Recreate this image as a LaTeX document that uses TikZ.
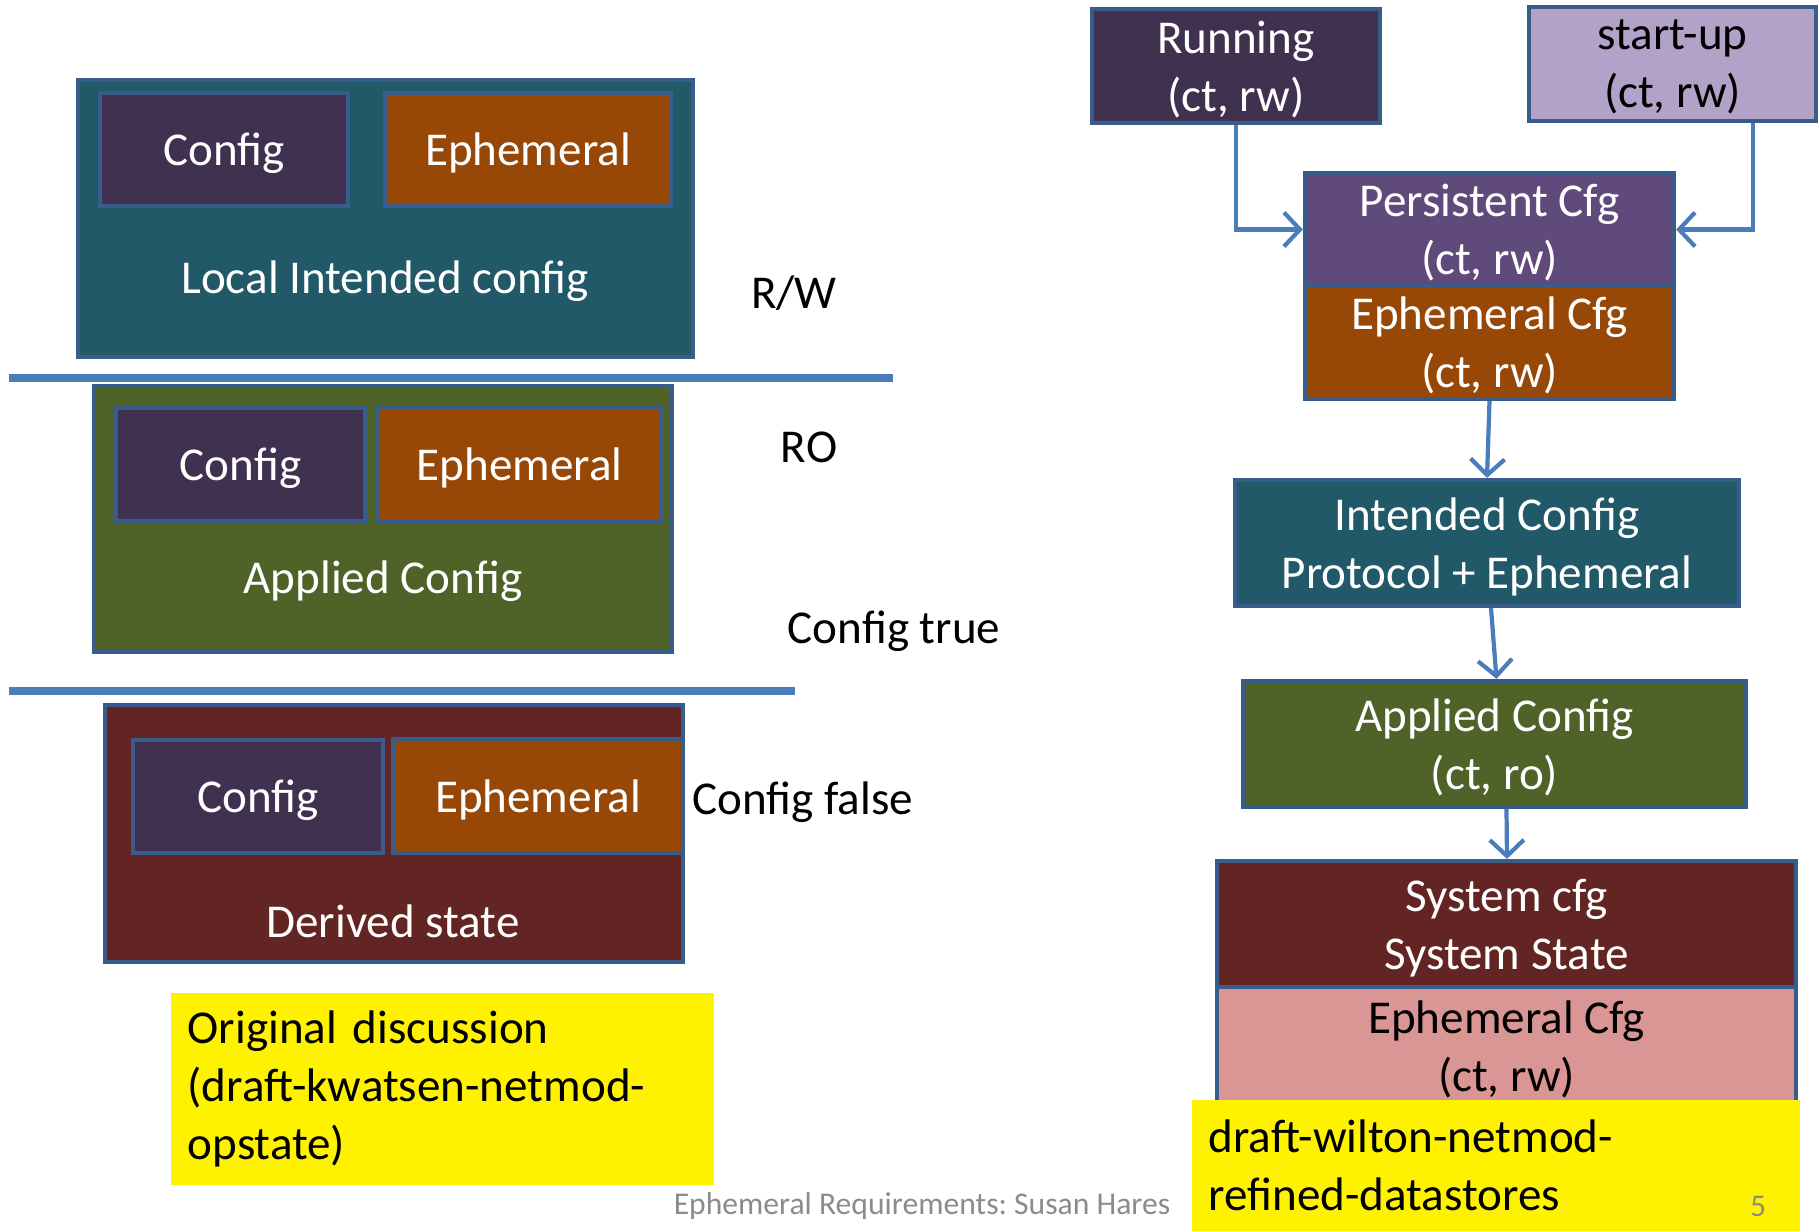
\documentclass[tikz,border=0pt]{standalone}
\usepackage{fontspec}
\setmainfont{Carlito}
\usepackage{xcolor}
\usepackage{tikz}
\usetikzlibrary{shapes,arrows,positioning,calc,arrows.meta}

\definecolor{edge}{HTML}{385D8A}
\definecolor{link}{HTML}{4A7EBB}
\definecolor{cfgpurple}{HTML}{403151}
\definecolor{ephorange}{HTML}{974806}
\definecolor{intteal}{HTML}{215968}
\definecolor{appolive}{HTML}{4F6228}
\definecolor{derred}{HTML}{632523}
\definecolor{perspurple}{HTML}{604A7B}
\definecolor{startlav}{HTML}{B3A2C7}
\definecolor{ephpink}{HTML}{D99694}
\definecolor{footgray}{HTML}{8B8B8B}
\newcommand{\slidefont}{\fontsize{13.4}{16.5}\selectfont}
\frenchspacing

\begin{document}
\begin{tikzpicture}[
    box/.style={rectangle, draw=edge, line width=1.2pt, inner sep=0pt, align=center, text=white, font=\slidefont, text depth=0pt},
    sepline/.style={draw=link, line width=2pt},
    link/.style={draw=link, line width=1.2pt, -{Straight Barb[length=1.6mm,width=3.4mm]}},
    note/.style={fill=yellow, inner sep=0.17cm, align=left, font=\slidefont, anchor=north west},
    side/.style={font=\slidefont, text depth=0pt}
  ]
    \useasboundingbox (0,0) rectangle (18.18,-12.31);

    % Local intended config (R/W)
    \node[box, fill=intteal, minimum width=6.15cm, minimum height=2.77cm] (local) at (3.855,-2.185) {};
    \node[box, fill=cfgpurple, minimum width=2.48cm, minimum height=1.13cm] (localcfg) at (2.24,-1.495) {Config};
    \node[box, fill=ephorange, minimum width=2.86cm, minimum height=1.13cm] (localeph) at (5.28,-1.495) {Ephemeral};
    \node[side, text=white] (localtxt) at (3.85,-2.77) {Local Intended config};
    \node[side] (rw) at (7.94,-2.92) {R/W};
    \draw[sepline] (0.09,-3.78) -- (8.93,-3.78);

    % Applied config (RO)
    \node[box, fill=appolive, minimum width=5.78cm, minimum height=2.66cm] (applied) at (3.83,-5.19) {};
    \node[box, fill=cfgpurple, minimum width=2.49cm, minimum height=1.13cm] (appcfg) at (2.405,-4.645) {Config};
    \node[box, fill=ephorange, minimum width=2.85cm, minimum height=1.13cm] (appeph) at (5.195,-4.645) {Ephemeral};
    \node[side, text=white] (apptxt) at (3.83,-5.77) {Applied Config};
    \node[side] (ro) at (8.09,-4.47) {RO};
    \node[side] (cfgtrue) at (8.94,-6.27) {Config true};
    \draw[sepline] (0.09,-6.91) -- (7.95,-6.91);

    % Derived state
    \node[box, fill=derred, minimum width=5.78cm, minimum height=2.57cm] (derived) at (3.94,-8.335) {};
    \node[box, fill=cfgpurple, minimum width=2.5cm, minimum height=1.13cm] (dercfg) at (2.58,-7.965) {Config};
    \node[box, fill=ephorange, minimum width=2.9cm, minimum height=1.14cm] (dereph) at (5.38,-7.96) {Ephemeral};
    \node[side, text=white] (dertxt) at (3.93,-9.21) {Derived state};
    \node[side, anchor=west] (cfgfalse) at (6.8,-7.98) {Config false};

    \node[note, minimum width=5.43cm, minimum height=1.92cm, text width=5.09cm] (oldnote) at (1.70,-9.92)
      {Original discussion\\(draft-kwatsen-netmod-\\opstate)};

    % Right: refined datastores
    \node[box, fill=cfgpurple, minimum width=2.88cm, minimum height=1.14cm] (running) at (12.36,-0.66) {Running\\(ct, rw)};
    \node[box, fill=startlav, text=black, minimum width=2.87cm, minimum height=1.14cm] (startup) at (16.725,-0.64) {start-up\\(ct, rw)};
    \node[box, fill=perspurple, minimum width=3.69cm, minimum height=1.13cm] (persist) at (14.895,-2.295) {Persistent Cfg\\(ct, rw)};
    \node[box, fill=ephorange, minimum width=3.69cm, minimum height=1.13cm] (ephcfg) at (14.895,-3.425) {Ephemeral Cfg\\(ct, rw)};
    \node[box, fill=intteal, minimum width=5.04cm, minimum height=1.26cm] (intended) at (14.87,-5.43) {Intended Config\\Protocol + Ephemeral};
    \node[box, fill=appolive, minimum width=5.03cm, minimum height=1.26cm] (rapplied) at (14.945,-7.44) {Applied Config\\(ct, ro)};
    \node[box, fill=derred, minimum width=5.79cm, minimum height=1.26cm] (system) at (15.065,-9.24) {System cfg\\System State};
    \node[box, fill=ephpink, text=black, minimum width=5.79cm, minimum height=1.18cm] (sysesph) at (15.065,-10.46) {Ephemeral Cfg\\(ct, rw)};

    \draw[link] (running.south) |- (persist.west);
    \draw[link] ([xshift=0.805cm]startup.south) |- (persist.east);
    \draw[link] (ephcfg.south) -- (intended.north);
    \draw[link] ([xshift=0.04cm]intended.south) -- ([xshift=0.02cm]rapplied.north);
    \draw[link] ([xshift=0.12cm]rapplied.south) -- ([xshift=0.005cm]system.north);

    \node[note, minimum width=6.08cm, minimum height=1.32cm, text width=5.74cm] (newnote) at (11.91,-10.99)
      {draft-wilton-netmod-\\refined-datastores};

    % Footer
    \node[font=\fontsize{9}{11}\selectfont, text=footgray] (footer) at (9.22,-12.06) {Ephemeral Requirements: Susan Hares};
    \node[font=\fontsize{9}{11}\selectfont, text=footgray] (pagenum) at (17.58,-12.06) {5};
\end{tikzpicture}
\end{document}
